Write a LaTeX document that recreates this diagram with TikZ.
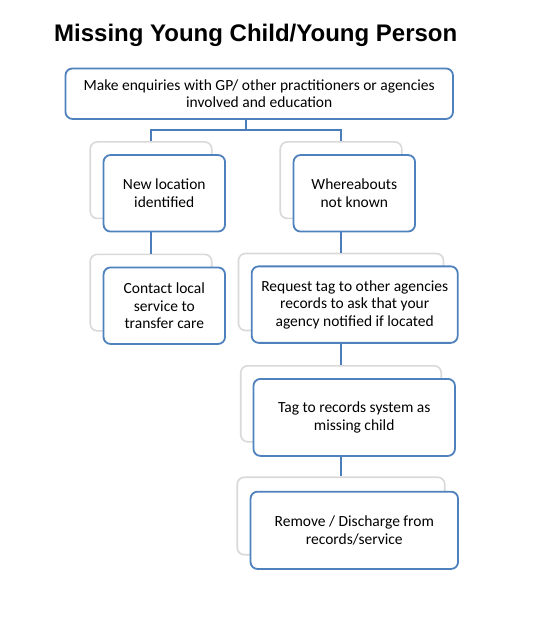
\documentclass[tikz,border=0pt]{standalone}
\usepackage{fontspec}
\setmainfont{Carlito}
\newfontfamily\titlefont{Liberation Sans}
\usetikzlibrary{positioning,calc}

\definecolor{boxblue}{HTML}{4F81BD}
\definecolor{linkblue}{HTML}{4A7DBA}
\definecolor{backgray}{HTML}{D9D9D9}

\tikzset{
  back/.style={draw=backgray,fill=white,line width=1.6pt,rounded corners=7pt,
               inner sep=0pt},
  front/.style={draw=boxblue,fill=white,line width=1.8pt,rounded corners=7pt,
                inner sep=0pt,align=center,
                font=\fontsize{15.5}{17.4}\selectfont},
  link/.style={draw=linkblue,line width=1.8pt},
  narrow/.style={minimum width=121.5pt,minimum height=76.5pt},
}

\begin{document}
\begin{tikzpicture}[x=1pt,y=-1pt]
  \useasboundingbox (0,0) rectangle (546,617);

  \node[anchor=base,font=\titlefont\bfseries\fontsize{24}{28}\selectfont]
    (title) at (255.7,41.7) {Missing Young Child/Young Person};

  \node[front,minimum width=387.5pt,minimum height=50.5pt] (top) at (259.2,93.7)
    {Make enquiries with GP/ other practitioners or agencies\\involved and education};

  % gray boxes behind
  \node[back,narrow]                                        (g1) at (151,180.2) {};
  \node[back,narrow]                                        (g2) at (341,180.2) {};
  \node[back,narrow]                                        (g3) at (151,292.6) {};
  \node[back,minimum width=205pt,minimum height=77pt]       (g4) at (341,292)   {};
  \node[back,minimum width=200.5pt,minimum height=76pt]     (g5) at (341,403.8) {};
  \node[back,minimum width=207.5pt,minimum height=77.5pt]   (g6) at (341,516)   {};

  % connectors
  \coordinate (split) at ($(g1.north)!.5!(g2.north)+(0,-11)$);
  \draw[link] (top.south -| split) -- (split);
  \draw[link] (g1.north) |- (split) -| (g2.north);
  \draw[link] (g1.south) -- (g3.north);
  \draw[link] (g2.south) -- (g4.north);
  \draw[link] (g4.south) -- (g5.north);
  \draw[link] (g5.south) -- (g6.north);

  % blue boxes in front
  \node[front,narrow] (found) at ($(g1)+(13.3,13.1)$) {New location\\identified};
  \node[front,narrow] (lost)  at ($(g2)+(13.3,13.1)$) {Whereabouts\\not known};
  \node[front,narrow] (local) at ($(g3)+(13.3,13.1)$) {Contact local\\service to\\transfer care};
  \node[front,minimum width=206pt,minimum height=76.5pt]  (request) at ($(g4)+(13.7,12.6)$)
    {Request tag to other agencies\\records to ask that your\\agency notified if located};
  \node[front,minimum width=201.5pt,minimum height=77pt]  (tag)     at ($(g5)+(13.2,13.6)$)
    {Tag to records system as\\missing child};
  \node[front,minimum width=207.5pt,minimum height=77.3pt] (remove) at ($(g6)+(13.3,14.3)$)
    {Remove / Discharge from\\records/service};
\end{tikzpicture}
\end{document}
